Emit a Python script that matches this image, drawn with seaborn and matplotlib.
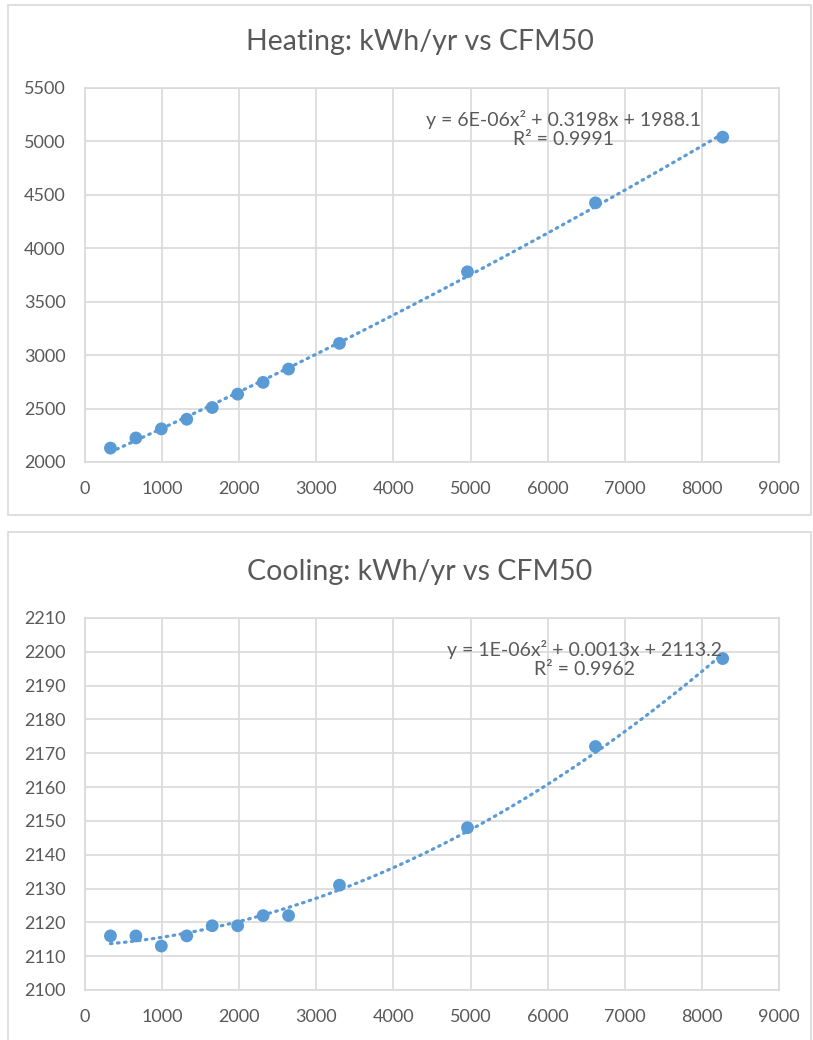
import numpy as np
import matplotlib
matplotlib.use("Agg")
import matplotlib.pyplot as plt
from matplotlib.patches import Rectangle
import seaborn as sns

sns.set_theme(style="white")
plt.rcParams["font.family"] = ["Lato", "DejaVu Sans"]

# CFM50 values (shared x)
cfm50 = [330, 660, 990, 1320, 1650, 1980, 2310, 2640, 3300, 4960, 6620, 8270]
heating_kwh = [2130, 2225, 2310, 2400, 2510, 2635, 2745, 2870, 3110, 3780, 4425, 5040]
cooling_kwh = [2116, 2116, 2113, 2116, 2119, 2119, 2122, 2122, 2131, 2148, 2172, 2198]

heating_title = "Heating: kWh/yr vs CFM50"
cooling_title = "Cooling: kWh/yr vs CFM50"
heating_eq = "y = 6E-06x\u00b2 + 0.3198x + 1988.1\nR\u00b2 = 0.9991"
cooling_eq = "y = 1E-06x\u00b2 + 0.0013x + 2113.2\nR\u00b2 = 0.9962"

x_ticks = list(range(0, 9001, 1000))
heating_ticks = list(range(2000, 5501, 500))
cooling_ticks = list(range(2100, 2211, 10))

BLUE = "#5B9BD5"
GRID = "#D9D9D9"
TXT = "#595959"

fig = plt.figure(figsize=(8.13, 10.4), dpi=100)

# chart boxes
fig.patches.append(Rectangle((8 / 813, 1 - 515 / 1040), 803 / 813, 510 / 1040,
                             transform=fig.transFigure, fill=False, edgecolor=GRID, lw=1.2))
fig.patches.append(Rectangle((8 / 813, -0.01), 803 / 813, 1 - 532 / 1040 + 0.01,
                             transform=fig.transFigure, fill=False, edgecolor=GRID, lw=1.2))


def panel(rect, y, yticks, title, eq, eq_xy, title_y):
    ax = fig.add_axes(rect)
    sns.regplot(x=np.array(cfm50), y=np.array(y), order=2, ci=None, ax=ax,
                scatter_kws=dict(s=85, color=BLUE, alpha=1, edgecolor="none", zorder=3),
                line_kws=dict(color=BLUE, lw=2.3, linestyle=(0, (0.5, 1.7)),
                              dash_capstyle="round", zorder=2))
    ax.set_xlim(x_ticks[0], x_ticks[-1])
    ax.set_ylim(yticks[0], yticks[-1])
    ax.set_xticks(x_ticks)
    ax.set_yticks(yticks)
    ax.grid(True, color=GRID, lw=1.2)
    ax.set_axisbelow(True)
    for s in ax.spines.values():
        s.set_color(GRID)
        s.set_linewidth(1.2)
    ax.tick_params(length=0, labelsize=13, labelcolor=TXT)
    ax.tick_params(axis="x", pad=14)
    ax.tick_params(axis="y", pad=14)
    ax.set_xlabel("")
    ax.set_ylabel("")
    ax.text(eq_xy[0], eq_xy[1], eq, ha="center", va="top", fontsize=14,
            color=TXT, linespacing=1.15)
    fig.text(420 / 813, title_y, title, ha="center", va="center", fontsize=20.5, color=TXT)
    return ax


panel([85 / 813, 1 - 462 / 1040, 694 / 813, 374 / 1040], heating_kwh, heating_ticks,
      heating_title, heating_eq, (6200, 5294), 1 - 42 / 1040)
panel([85 / 813, 1 - 990 / 1040, 694 / 813, 372 / 1040], cooling_kwh, cooling_ticks,
      cooling_title, cooling_eq, (6484, 2203.5), 1 - 572 / 1040)

fig.savefig("out.png", dpi=100)
